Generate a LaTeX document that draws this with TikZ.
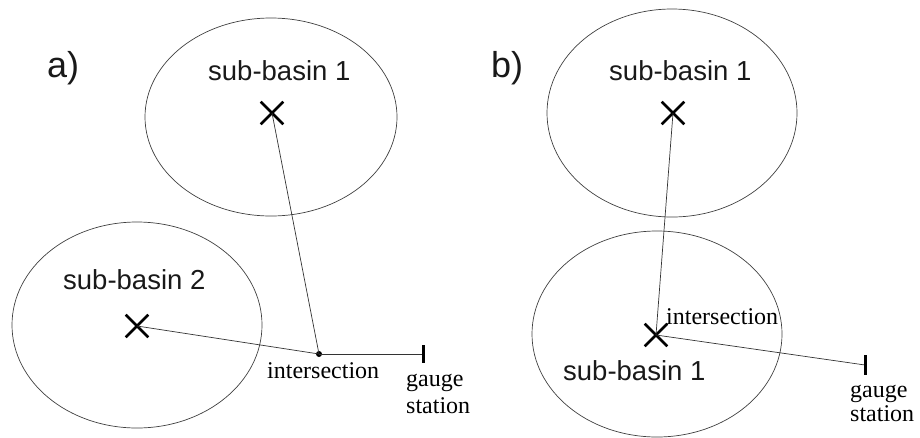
\documentclass[tikz,border=0pt]{standalone}
\usepackage{fontspec}
\setmainfont{Liberation Serif}
\newfontfamily\labelsans{Liberation Sans}
\usetikzlibrary{shapes.misc}
\begin{document}
\begin{tikzpicture}[x=1pt,y=-1pt,
  basin/.style={draw=black!75,line width=0.7pt},
  link/.style={draw=black!80,line width=0.7pt},
  xmark/.style={cross out,draw=black,line width=2.6pt,minimum size=20pt,inner sep=0pt},
  bname/.style={font=\labelsans\fontsize{27.5}{30}\selectfont,anchor=base west,inner sep=0pt,text=black!90},
  plabel/.style={font=\labelsans\fontsize{36}{38}\selectfont,anchor=base west,inner sep=0pt,text=black!90},
  slabel/.style={font=\fontsize{24}{27}\selectfont,anchor=base west,inner sep=0pt,align=left},
  gbar/.style={line width=3pt}
]
\useasboundingbox (0,0) rectangle (920,437);
% ---------- a) ----------
\node[plabel] (la) at (47,77) {a)};
\draw[basin] (271,117) ellipse [x radius=126, y radius=99];
\draw[basin] (137,325) ellipse [x radius=125, y radius=103];
\node[bname] (a1name) at (208,80) {sub-basin 1};
\node[bname] (a2name) at (63,289) {sub-basin 2};
\node[xmark] (a1) at (272,113) {};
\node[xmark] (a2) at (137,326) {};
\node[circle,fill=black,inner sep=0pt,minimum size=6pt] (ia) at (319,354) {};
\coordinate (ga) at (423,354);
\draw[link] (a1.center) -- (ia.center);
\draw[link] (a2.center) -- (ia.center);
\draw[link] (ia.center) -- (ga);
\draw[gbar] ([yshift=9pt]ga) -- ([yshift=-9pt]ga);
\node[slabel] (ta) at (267,378) {intersection};
\node[slabel] (gta) at (406,413) {gauge\\station};
% ---------- b) ----------
\node[plabel] (lb) at (491,77) {b)};
\draw[basin] (672,113) ellipse [x radius=125, y radius=104];
\draw[basin] (657,334) ellipse [x radius=125, y radius=103];
\node[bname] (b1name) at (609,80) {sub-basin 1};
\node[bname] (b2name) at (563,380) {sub-basin 1};
\node[xmark] (b1) at (673,113) {};
\node[xmark] (b2) at (656,335) {};
\coordinate (gb) at (865,365);
\draw[link] (b1.center) -- (b2.center);
\draw[link] (b2.center) -- (gb);
\draw[gbar] ([yshift=10pt]gb) -- ([yshift=-10pt]gb);
\node[slabel] (tb) at (666,324) {intersection};
\node[slabel] (gtb) at (850,421) {gauge\\[-3pt]station};
\end{tikzpicture}
\end{document}
